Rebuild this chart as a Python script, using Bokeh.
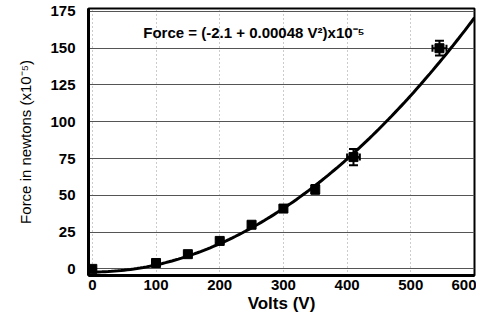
import numpy as np
from bokeh.plotting import figure
from bokeh.models import ColumnDataSource, Whisker, TeeHead, Range1d, FixedTicker, Label
from bokeh.embed import file_html
from bokeh.resources import INLINE

# data
volts = [0, 100, 150, 200, 250, 300, 350, 410, 545]
force = [0, 4, 10, 19, 30, 41, 54, 76, 150]
force_err = [0.5, 1, 1, 1.5, 2, 2, 3, 5.5, 5]
volts_err = [1, 2, 2, 3, 3, 3, 4, 10, 11]
fit_a = -2.1
fit_b = 0.00048
x_ticks = [0, 100, 200, 300, 400, 500, 600]
y_ticks = [0, 25, 50, 75, 100, 125, 150, 175]

FONT = "Liberation Sans"

p = figure(width=476, height=315, output_backend="svg", toolbar_location=None,
           x_range=Range1d(-6, 600), y_range=Range1d(-4.5, 177),
           min_border_left=88, min_border_right=2, min_border_top=8, min_border_bottom=33)

p.background_fill_color = "white"
p.border_fill_color = "white"
p.outline_line_color = "black"
p.outline_line_width = 2

p.xaxis.ticker = FixedTicker(ticks=x_ticks)
p.yaxis.ticker = FixedTicker(ticks=y_ticks)
for ax in (p.xaxis[0], p.yaxis[0]):
    ax.axis_line_width = 3
    ax.axis_line_color = "black"
    ax.major_tick_out = 0
    ax.major_tick_in = 0
    ax.minor_tick_out = 0
    ax.minor_tick_in = 0
    ax.major_label_text_font = FONT
    ax.major_label_text_font_style = "bold"
    ax.major_label_text_font_size = "15px"
    ax.major_label_text_color = "black"
    ax.axis_label_text_font = FONT
    ax.axis_label_text_color = "black"

p.xaxis.major_label_standoff = 4
p.yaxis.major_label_standoff = 13
p.xaxis.axis_label = "Volts (V)"
p.xaxis.axis_label_text_font_style = "bold"
p.xaxis.axis_label_text_font_size = "17px"
p.xaxis.axis_label_standoff = 1
p.yaxis.axis_label = "Force in newtons (x10⁻⁵)"
p.yaxis.axis_label_text_font_style = "normal"
p.yaxis.axis_label_text_font_size = "15px"
p.yaxis.axis_label_standoff = 13

p.ygrid.grid_line_color = "#555555"
p.ygrid.grid_line_width = 1
p.xgrid.grid_line_color = "#999999"
p.xgrid.grid_line_dash = "1 3"
p.xgrid.grid_line_width = 1

# fit curve from the stated equation
vv = np.linspace(0, 600, 121)
p.line(vv, fit_a + fit_b * vv ** 2, line_color="black", line_width=3)

src = ColumnDataSource(dict(
    x=volts, y=force,
    ylo=[f - e for f, e in zip(force, force_err)],
    yhi=[f + e for f, e in zip(force, force_err)],
    xlo=[v - e for v, e in zip(volts, volts_err)],
    xhi=[v + e for v, e in zip(volts, volts_err)],
))

p.add_layout(Whisker(source=src, base="x", lower="ylo", upper="yhi", dimension="height",
                     line_color="black", line_width=2,
                     upper_head=TeeHead(size=9, line_width=2, line_color="black"),
                     lower_head=TeeHead(size=9, line_width=2, line_color="black")))
p.add_layout(Whisker(source=src, base="y", lower="xlo", upper="xhi", dimension="width",
                     line_color="black", line_width=2,
                     upper_head=TeeHead(size=7, line_width=2, line_color="black"),
                     lower_head=TeeHead(size=7, line_width=2, line_color="black")))

p.scatter("x", "y", source=src, marker="square", size=9, fill_color="black", line_color="black")

p.add_layout(Label(x=80, y=161, text="Force = (-2.1 + 0.00048 V²)x10⁻⁵",
                   text_font=FONT, text_font_style="bold", text_font_size="15px",
                   text_color="black", text_baseline="middle"))

open("out.html", "w").write(file_html(p, INLINE))
